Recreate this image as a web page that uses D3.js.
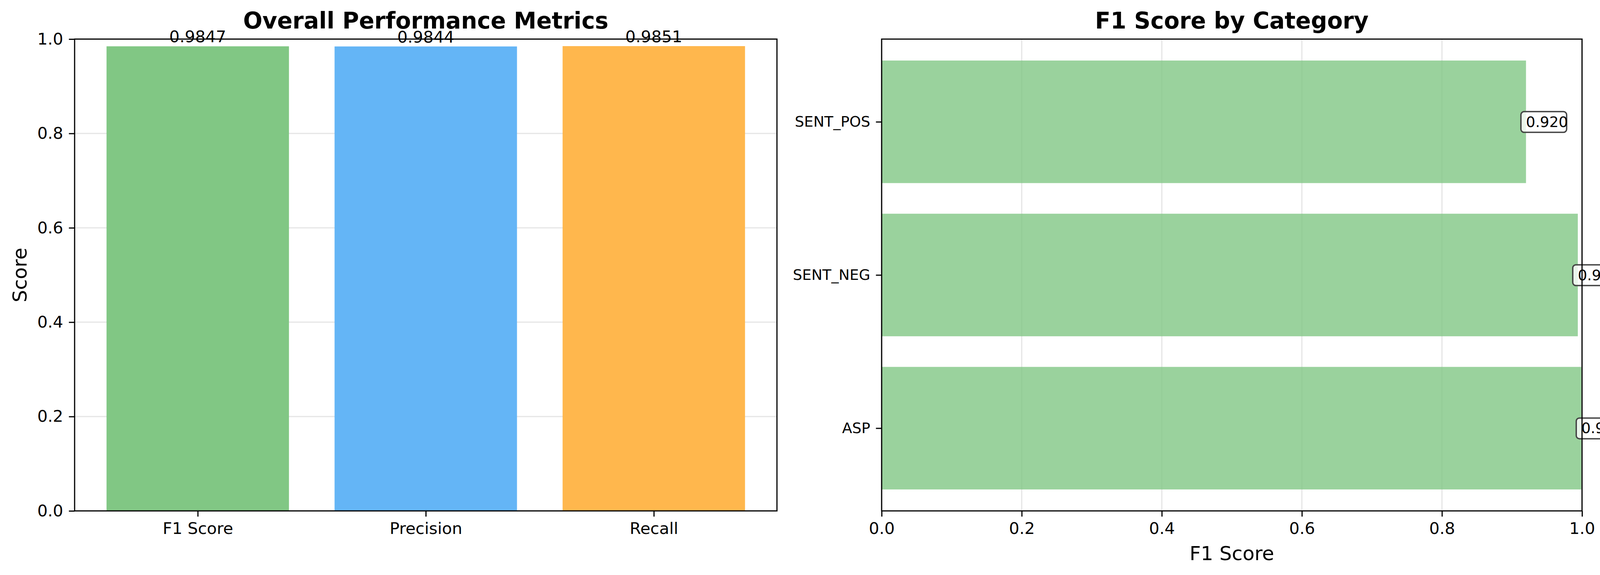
<!DOCTYPE html>
<html><head><meta charset="utf-8">
<script src="https://cdn.jsdelivr.net/npm/d3@7"></script>
<style>body{margin:0;background:#fff}text{font-family:"DejaVu Sans",sans-serif}</style>
</head><body><svg id="c" width="4172" height="1471"></svg>
<script>
var metricNames = ['F1 Score', 'Precision', 'Recall'];
var metricValues = [0.9847, 0.9844, 0.9851];
var metricColors = ['#81c784', '#64b5f6', '#ffb74d'];
var categories = ['ASP', 'SENT_NEG', 'SENT_POS'];
var categoryF1 = [0.999, 0.994, 0.920];
var ticks = [0, 0.2, 0.4, 0.6, 0.8, 1.0];

var svg = d3.select('#c');
var plotTop = 100, plotBottom = 1307;
var tickFont = 41.7;

function frame(g, x0, x1) {
    g.append('rect').attr('x', x0).attr('y', plotTop).attr('width', x1 - x0).attr('height', plotBottom - plotTop)
        .attr('fill', 'none').attr('stroke', '#000').attr('stroke-width', 3);
}
function styleAxis(a) {
    a.select('.domain').remove();
    a.selectAll('line').attr('stroke', '#000').attr('stroke-width', 3);
    a.selectAll('text').attr('font-size', tickFont).attr('font-family', 'DejaVu Sans').attr('fill', '#000');
}

// left panel
(function () {
    var x0 = 191, x1 = 1989;
    var g = svg.append('g');
    var x = d3.scaleLinear().domain([-0.54, 2.54]).range([x0, x1]);
    var y = d3.scaleLinear().domain([0, 1]).range([plotBottom, plotTop]);
    g.selectAll('.grid').data(ticks).enter().append('line')
        .attr('x1', x0).attr('x2', x1).attr('y1', y).attr('y2', y)
        .attr('stroke', '#b0b0b0').attr('stroke-opacity', 0.3).attr('stroke-width', 3.3);
    g.selectAll('.bar').data(metricValues).enter().append('rect')
        .attr('x', function (d, i) { return x(i - 0.4); })
        .attr('width', function () { return x(0.8) - x(0); })
        .attr('y', function (d) { return y(d); })
        .attr('height', function (d) { return plotBottom - y(d); })
        .attr('fill', function (d, i) { return metricColors[i]; });
    g.selectAll('.val').data(metricValues).enter().append('text')
        .attr('x', function (d, i) { return x(i); }).attr('y', function (d) { return y(d) - 10; })
        .attr('text-anchor', 'middle').attr('font-size', tickFont).text(function (d) { return d.toFixed(4); });
    var ay = g.append('g').attr('transform', 'translate(' + x0 + ',0)')
        .call(d3.axisLeft(y).tickValues(ticks).tickFormat(d3.format('.1f')).tickSize(14.6).tickPadding(14.6));
    styleAxis(ay);
    var ax = g.append('g').attr('transform', 'translate(0,' + plotBottom + ')')
        .call(d3.axisBottom(x).tickValues([0, 1, 2]).tickFormat(function (d) { return metricNames[d]; }).tickSize(14.6).tickPadding(14.6));
    styleAxis(ax);
    frame(g, x0, x1);
    g.append('text').attr('x', (x0 + x1) / 2).attr('y', 73).attr('text-anchor', 'middle')
        .attr('font-size', 58).attr('font-weight', 'bold').text('Overall Performance Metrics');
    g.append('text').attr('transform', 'translate(68,' + (plotTop + plotBottom) / 2 + ') rotate(-90)')
        .attr('text-anchor', 'middle').attr('font-size', 50).text('Score');
})();

// right panel
(function () {
    var x0 = 2257, x1 = 4050;
    var g = svg.append('g');
    var x = d3.scaleLinear().domain([0, 1]).range([x0, x1]);
    var y = d3.scaleLinear().domain([-0.54, 2.54]).range([plotBottom, plotTop]);
    g.selectAll('.grid').data(ticks).enter().append('line')
        .attr('x1', x).attr('x2', x).attr('y1', plotTop).attr('y2', plotBottom)
        .attr('stroke', '#b0b0b0').attr('stroke-opacity', 0.3).attr('stroke-width', 3.3);
    g.selectAll('.bar').data(categoryF1).enter().append('rect')
        .attr('x', x0)
        .attr('width', function (d) { return x(d) - x0; })
        .attr('y', function (d, i) { return y(i + 0.4); })
        .attr('height', function () { return y(0) - y(0.8); })
        .attr('fill', '#81c784').attr('fill-opacity', 0.8);
    var lab = g.selectAll('.lab').data(categoryF1).enter().append('g')
        .attr('transform', function (d, i) { return 'translate(' + x(d) + ',' + y(i) + ')'; });
    lab.append('rect').attr('x', -13).attr('y', -26).attr('width', 117).attr('height', 53).attr('rx', 8)
        .attr('fill', '#fff').attr('fill-opacity', 0.8).attr('stroke', '#444').attr('stroke-width', 3.5);
    lab.append('text').attr('x', 0).attr('y', 13).attr('font-size', 37.5)
        .text(function (d) { return d.toFixed(3); });
    var ay = g.append('g').attr('transform', 'translate(' + x0 + ',0)')
        .call(d3.axisLeft(y).tickValues([0, 1, 2]).tickFormat(function (d) { return categories[d]; }).tickSize(14.6).tickPadding(14.6));
    styleAxis(ay);
    ay.selectAll('text').attr('font-size', 37.5);
    var ax = g.append('g').attr('transform', 'translate(0,' + plotBottom + ')')
        .call(d3.axisBottom(x).tickValues(ticks).tickFormat(d3.format('.1f')).tickSize(14.6).tickPadding(14.6));
    styleAxis(ax);
    frame(g, x0, x1);
    g.append('text').attr('x', (x0 + x1) / 2).attr('y', 73).attr('text-anchor', 'middle')
        .attr('font-size', 58).attr('font-weight', 'bold').text('F1 Score by Category');
    g.append('text').attr('x', (x0 + x1) / 2).attr('y', 1433).attr('text-anchor', 'middle')
        .attr('font-size', 50).text('F1 Score');
})();
</script></body></html>
